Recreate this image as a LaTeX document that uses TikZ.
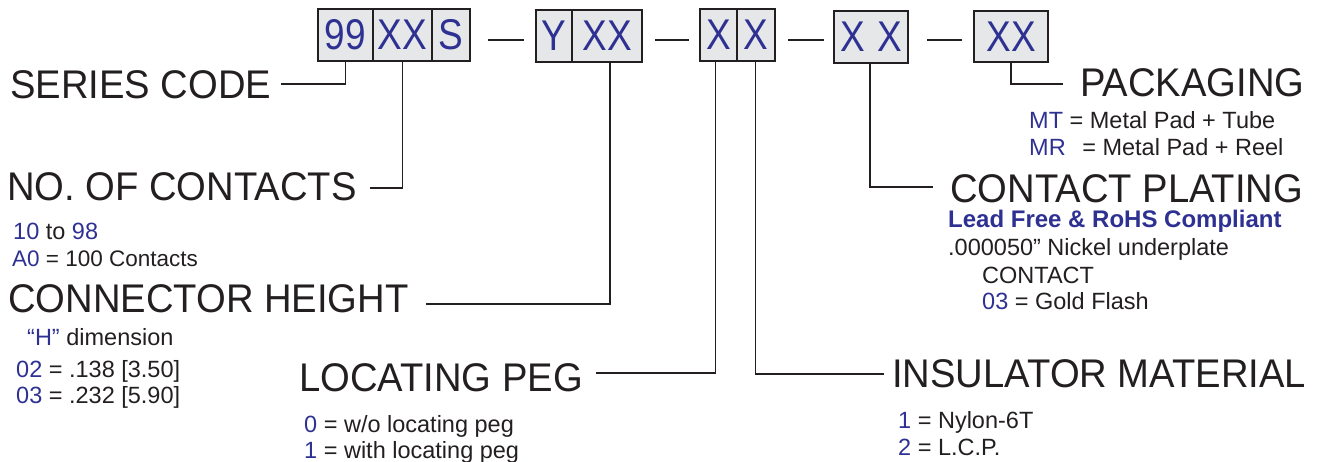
\documentclass[tikz,border=0pt]{standalone}
\usepackage{fontspec}
\setmainfont{Liberation Sans}
\definecolor{pblue}{RGB}{46,49,146}
\definecolor{ink}{RGB}{35,31,32}
\definecolor{cellfill}{RGB}{230,231,232}
\newcommand\bigtxt[1]{\scalebox{0.955}[1]{\fontsize{40}{40}\selectfont #1}}
\newcommand\celltxt[1]{\scalebox{0.86}[1]{\fontsize{43}{43}\selectfont #1}}
\newcommand\bl[1]{\textcolor{pblue}{#1}}
\begin{document}
\begin{tikzpicture}[x=1pt,y=-1pt,
  cell/.style={draw=ink, fill=cellfill, line width=2pt, inner sep=0pt, minimum height=52pt, text=pblue},
  conn/.style={draw=ink, line width=1.8pt},
  dashline/.style={draw=ink, line width=1.8pt},
  lbl/.style={anchor=base west, inner sep=0pt, text=ink},
  small/.style={anchor=base west, inner sep=0pt, text=ink, font=\fontsize{23.5}{26}\selectfont}]
\useasboundingbox (0,0) rectangle (1317,461);
% code boxes
\node[cell, minimum width=55pt] (c99) at (345.5,35) {\celltxt{99}};
\node[cell, minimum width=59pt] (cXX) at (402.5,35) {\celltxt{XX}};
\node[cell, minimum width=38pt] (cS) at (451,35) {\celltxt{S}};
\node[cell, minimum width=36pt] (cY) at (554,36) {\celltxt{Y}};
\node[cell, minimum width=70pt] (cXX2) at (607,36) {\celltxt{XX}};
\node[cell, minimum width=37pt] (cX1) at (718.5,35) {\celltxt{X}};
\node[cell, minimum width=38pt] (cX2) at (755.5,35) {\celltxt{X}};
\node[cell, minimum width=74pt] (cXsp) at (871,37) {\celltxt{X\,\,X}};
\node[cell, minimum width=74pt, minimum height=51pt] (cPk) at (1011,36.5) {\celltxt{XX}};
% dashes
\draw[dashline] (488,40) -- (524,40);
\draw[dashline] (655,40) -- (689,40);
\draw[dashline] (788,40) -- (824,40);
\draw[dashline] (927,40) -- (962,40);
% labels
\node[lbl] (series) at (10,98) {\bigtxt{SERIES CODE}};
\node[lbl] (contacts) at (7,200) {\bigtxt{NO. OF CONTACTS}};
\node[lbl] (height) at (8,312) {\bigtxt{CONNECTOR HEIGHT}};
\node[lbl] (peg) at (299,391) {\bigtxt{LOCATING PEG}};
\node[lbl] (pack) at (1080,96) {\bigtxt{PACKAGING}};
\node[lbl] (plating) at (950,202) {\bigtxt{CONTACT PLATING}};
\node[lbl] (insul) at (892,387) {\bigtxt{INSULATOR MATERIAL}};
% connectors
\coordinate (seriesEnd) at (281,84);
\coordinate (contEnd) at (370,188);
\coordinate (heightEnd) at (426,304);
\coordinate (pegEnd) at (596,373);
\coordinate (insEnd) at (884,374);
\coordinate (platEnd) at (933,187);
\coordinate (packEnd) at (1063,84);
\draw[conn] (c99.south) |- (seriesEnd);
\draw[conn] (cXX.south) |- (contEnd);
\draw[conn] ([xshift=3pt]cXX2.south) |- (heightEnd);
\draw[conn] ([xshift=-3pt]cX1.south) |- (pegEnd);
\draw[conn] (cX2.south) |- (insEnd);
\draw[conn] ([xshift=-1pt]cXsp.south) |- (platEnd);
\draw[conn] (cPk.south) |- (packEnd);
% descriptions
\node[small] (t1) at (13,239) {\bl{10} to \bl{98}};
\node[small, font=\fontsize{22.5}{26}\selectfont] (t2) at (12,266) {\bl{A0} = 100 Contacts};
\node[small] (t3) at (27,345) {\bl{“H”} dimension};
\node[small] (t4) at (16,377) {\bl{02} = .138 [3.50]};
\node[small] (t5) at (16,403) {\bl{03} = .232 [5.90]};
\node[small] (t6) at (304,432) {\bl{0} = w/o locating peg};
\node[small] (t7) at (304,458) {\bl{1} = with locating peg};
\node[small] (t8) at (1029,128) {\bl{MT} = Metal Pad + Tube};
\node[small] (t9) at (1029,155) {\bl{MR}\hspace{10pt} = Metal Pad + Reel};
\node[small, text=pblue, font=\fontsize{24}{26}\selectfont\bfseries] (t10) at (948,227) {Lead Free \& RoHS Compliant};
\node[small] (t11) at (948,255) {.000050” Nickel underplate};
\node[small] (t12) at (982,283) {CONTACT};
\node[small] (t13) at (982,309) {\bl{03} = Gold Flash};
\node[small] (t14) at (898,428) {\bl{1} = Nylon-6T};
\node[small] (t15) at (898,455) {\bl{2} = L.C.P.};
\end{tikzpicture}
\end{document}
